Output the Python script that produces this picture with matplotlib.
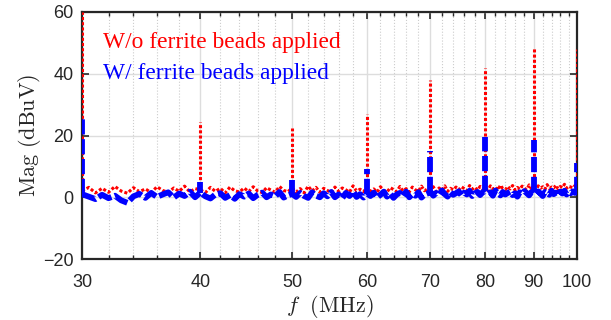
import matplotlib
matplotlib.use('Agg')
import matplotlib.pyplot as plt
from matplotlib.ticker import FixedLocator, NullFormatter
import numpy as np

plt.rcParams['mathtext.fontset'] = 'cm'

# frequency sweep (MHz), 0.5 MHz steps
freq = np.round(np.arange(30, 100.01, 0.5), 1)

# noise floor without ferrite beads (dBuV)
red_floor = [
    2.0, 3.2, 1.4, 2.9, 1.6, 3.5, 2.0, 1.3, 3.1, 1.8,
    2.7, 1.5, 3.4, 2.2, 1.6, 3.0, 1.9, 3.6, 1.7, 2.8,
    2.4, 1.5, 3.2, 1.9, 2.9, 1.4, 3.3, 2.1, 1.7, 3.0,
    1.8, 3.4, 2.0, 1.5, 3.1, 2.3, 1.6, 3.5, 2.2, 1.8,
    3.0, 1.7, 2.8, 1.4, 3.6, 2.0, 3.2, 1.6, 2.9, 2.2,
    1.5, 3.3, 1.9, 3.0, 2.4, 1.6, 3.7, 2.0, 2.6, 1.8,
    3.2, 1.9, 2.7, 1.6, 3.4, 2.2, 1.7, 3.1, 2.5, 1.8,
    3.5, 2.0, 2.8, 1.7, 3.3, 2.4, 1.9, 3.6, 2.1, 2.7,
    2.3, 3.4, 1.8, 3.0, 2.2, 3.7, 1.9, 2.9, 2.4, 3.3,
    2.4, 3.4, 2.8, 2.1, 3.8, 2.6, 3.2, 2.3, 3.5, 2.7,
    3.1, 2.2, 3.7, 2.6, 3.3, 2.3, 3.9, 2.8, 2.4, 3.5,
    2.7, 3.8, 2.3, 3.2, 2.6, 3.6, 2.9, 2.4, 4.0, 2.8,
    3.2, 2.5, 3.7, 2.9, 3.4, 2.6, 4.1, 2.8, 3.3, 3.0,
    3.9, 2.7, 3.5, 3.1, 4.2, 2.9, 3.6, 3.3, 3.0, 3.8,
    3.5,
]

# noise floor with ferrite beads (dBuV)
blue_floor = [
    1.0, 0.2, -0.6, 0.8, -0.3, 0.5, -1.0, -1.8, 0.3, 1.1,
    -0.2, 1.4, 0.1, 0.9, 1.6, -0.1, 1.2, 0.4, 1.8, 0.0,
    1.5, 0.3, -0.4, 0.9, 1.3, -0.2, 0.7, -0.5, 1.0, 0.2,
    1.2, -0.3, 0.8, 1.5, 0.0, 0.9, 0.3, 1.7, -0.1, 0.6,
    1.1, 0.1, 1.4, 0.4, -0.2, 1.6, 0.5, 0.0, 1.3, 0.3,
    1.7, 0.0, 0.9, -0.3, 1.4, 0.4, 1.9, 0.1, 1.0, -0.1,
    1.2, 0.4, 1.5, -0.1, 0.8, 1.8, 0.2, 1.1, -0.2, 0.9,
    1.4, 0.3, 1.8, 0.0, 1.0, 0.5, 1.6, -0.1, 0.8, 1.2,
    1.8, 0.5, 1.4, 0.7, 2.2, 1.0, 0.2, 1.6, 0.8, 1.3,
    1.9, 0.6, 1.5, 0.9, 2.1, 0.4, 1.3, 1.7, 0.7, 1.6,
    2.0, 1.1, 1.6, 0.5, 2.2, 1.2, 0.6, 1.7, 0.9, 1.4,
    1.8, 0.7, 1.3, 0.2, 1.6, 1.1, 2.0, 1.3, 0.6, 1.7,
    1.6, 0.9, 1.9, 1.2, 0.4, 1.7, 1.3, 0.8, 2.1, 1.0,
    1.5, 0.5, 1.8, 1.2, 2.1, 0.9, 1.6, 1.3, 1.9, 1.4,
    1.7,
]

# harmonic spikes (MHz) and their peak levels (dBuV)
spike_f = [30, 40, 50, 60, 70, 80, 90, 100]
red_peak = [60, 24.5, 22.5, 27, 38, 42, 48.5, 48]
blue_peak = [26, 5, 5.5, 9, 15, 19.5, 18.5, 11]

freq_list = list(freq)
red_base = [red_floor[freq_list.index(f)] for f in spike_f]
blue_base = [blue_floor[freq_list.index(f)] for f in spike_f]

fig = plt.figure(figsize=(6.11, 3.2), dpi=100)
ax = fig.add_axes([82 / 611, 61 / 320, 495 / 611, 247 / 320])

# floor traces
ax.plot(freq, red_floor, color='red', linewidth=2.2, dashes=(1, 0.7), zorder=3)
ax.plot(freq, blue_floor, color='blue', linewidth=4.2, dashes=(2.5, 0.6), zorder=4)

# harmonic spikes, drawn as single strokes so the dash pattern stays readable
# (collection dash lengths are scaled by the line width)
red_sp = ax.vlines(spike_f, red_base, red_peak, color='red', linewidth=2.2, zorder=3)
red_sp.set_linestyle((0, (1, 0.7)))
blue_sp = ax.vlines(spike_f, blue_base, blue_peak, color='blue', linewidth=4.2, zorder=4)
blue_sp.set_linestyle((0, (2.6, 0.8)))

ax.set_xscale('log')
ax.set_xlim(30, 100)
ax.set_ylim(-20, 60)

major_x = [30, 40, 50, 60, 70, 80, 90, 100]
minor_x = [f for f in range(32, 100, 2) if f not in major_x]
ax.xaxis.set_major_locator(FixedLocator(major_x))
ax.xaxis.set_minor_locator(FixedLocator(minor_x))
ax.xaxis.set_minor_formatter(NullFormatter())
ax.set_xticklabels([str(v) for v in major_x])
ax.set_yticks([-20, 0, 20, 40, 60])

ax.grid(True, which='major', color='#dddddd', linewidth=1.0, zorder=0)
ax.grid(True, which='minor', axis='x', color='#cccccc', linestyle=':', linewidth=0.8, zorder=0)
ax.set_axisbelow(True)

ax.tick_params(which='both', direction='in', top=True, right=True, color='#262626')
ax.tick_params(which='major', length=5, width=1.2, labelsize=13, labelcolor='#262626')
ax.tick_params(axis='x', which='major', pad=11)
ax.tick_params(axis='y', which='major', pad=6)
ax.tick_params(which='minor', length=3, width=1.0)
for lbl in ax.get_xticklabels() + ax.get_yticklabels():
    lbl.set_fontfamily('Liberation Sans')
for s in ax.spines.values():
    s.set_linewidth(1.6)
    s.set_color('#262626')

ax.set_ylabel(r'$\mathrm{Mag\ (dBuV)}$', fontsize=16, color='#262626', labelpad=0)
ax.set_xlabel(r'$f\ \ \mathrm{(MHz)}$', fontsize=16, color='#262626', labelpad=1)

ax.text(0.042, 0.878, 'W/o ferrite beads applied', transform=ax.transAxes, color='red',
        fontfamily='Liberation Serif', fontsize=16.8, va='center', ha='left')
ax.text(0.042, 0.749, 'W/ ferrite beads applied', transform=ax.transAxes, color='blue',
        fontfamily='Liberation Serif', fontsize=16.8, va='center', ha='left')

fig.savefig('out.png', dpi=100)
